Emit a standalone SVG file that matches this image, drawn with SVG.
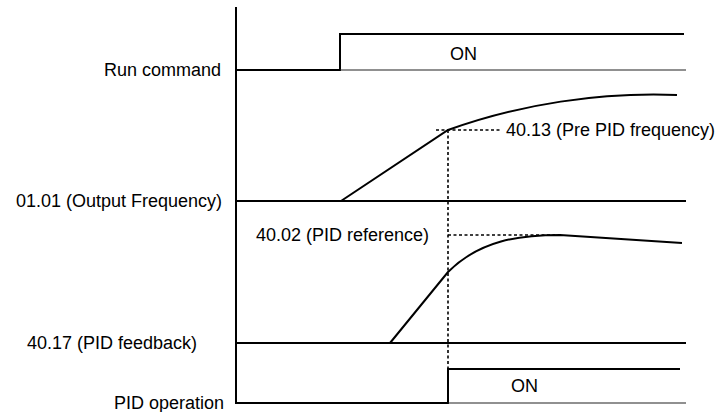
<svg xmlns="http://www.w3.org/2000/svg" width="717" height="412" viewBox="0 0 717 412">
<style>
text{font-family:"Liberation Sans",Arial,sans-serif;font-size:18px;fill:#000}
.lbl{text-anchor:end}
.ln{fill:none;stroke:#000;stroke-width:2}
.thin{fill:none;stroke:#222;stroke-width:1.2}
.dash{fill:none;stroke:#000;stroke-width:1.6;stroke-dasharray:3,2.5}
</style>
<rect width="717" height="412" fill="#fff"/>
<g id="axis"><path class="ln" d="M236,7 V404"/></g>
<g id="run-command">
<text class="lbl" x="221" y="76">Run command</text>
<path class="ln" d="M236,70 H340 V34 H684"/>
<path class="thin" d="M340,70 H686"/>
<text x="450" y="60">ON</text>
</g>
<g id="output-frequency">
<text class="lbl" x="222" y="207">01.01 (Output Frequency)</text>
<path class="ln" d="M236,201 H686"/>
<path class="ln" d="M341,201 L448,130 C520,104 600,92 677,95"/>
</g>
<g id="pre-pid-frequency">
<text x="506" y="136">40.13 (Pre PID frequency)</text>
</g>
<g id="pid-reference">
<text x="256" y="241">40.02 (PID reference)</text>
</g>
<g id="pid-feedback">
<text class="lbl" x="197" y="349">40.17 (PID feedback)</text>
<path class="ln" d="M236,343 H686"/>
<path class="ln" d="M390,343 L448,272 C480,240 520,235 560,235 L682,243"/>
</g>
<g id="pid-operation">
<text class="lbl" x="224" y="409">PID operation</text>
<path class="ln" d="M236,403 H448 V369 H680"/>
<path class="thin" d="M448,403 H686"/>
<text x="511" y="392">ON</text>
</g>
<g id="connectors">
<path class="dash" d="M436,130 H500"/>
<path class="dash" d="M448,130 V404"/>
<path class="dash" d="M448,235 H555"/>
</g>
</svg>
